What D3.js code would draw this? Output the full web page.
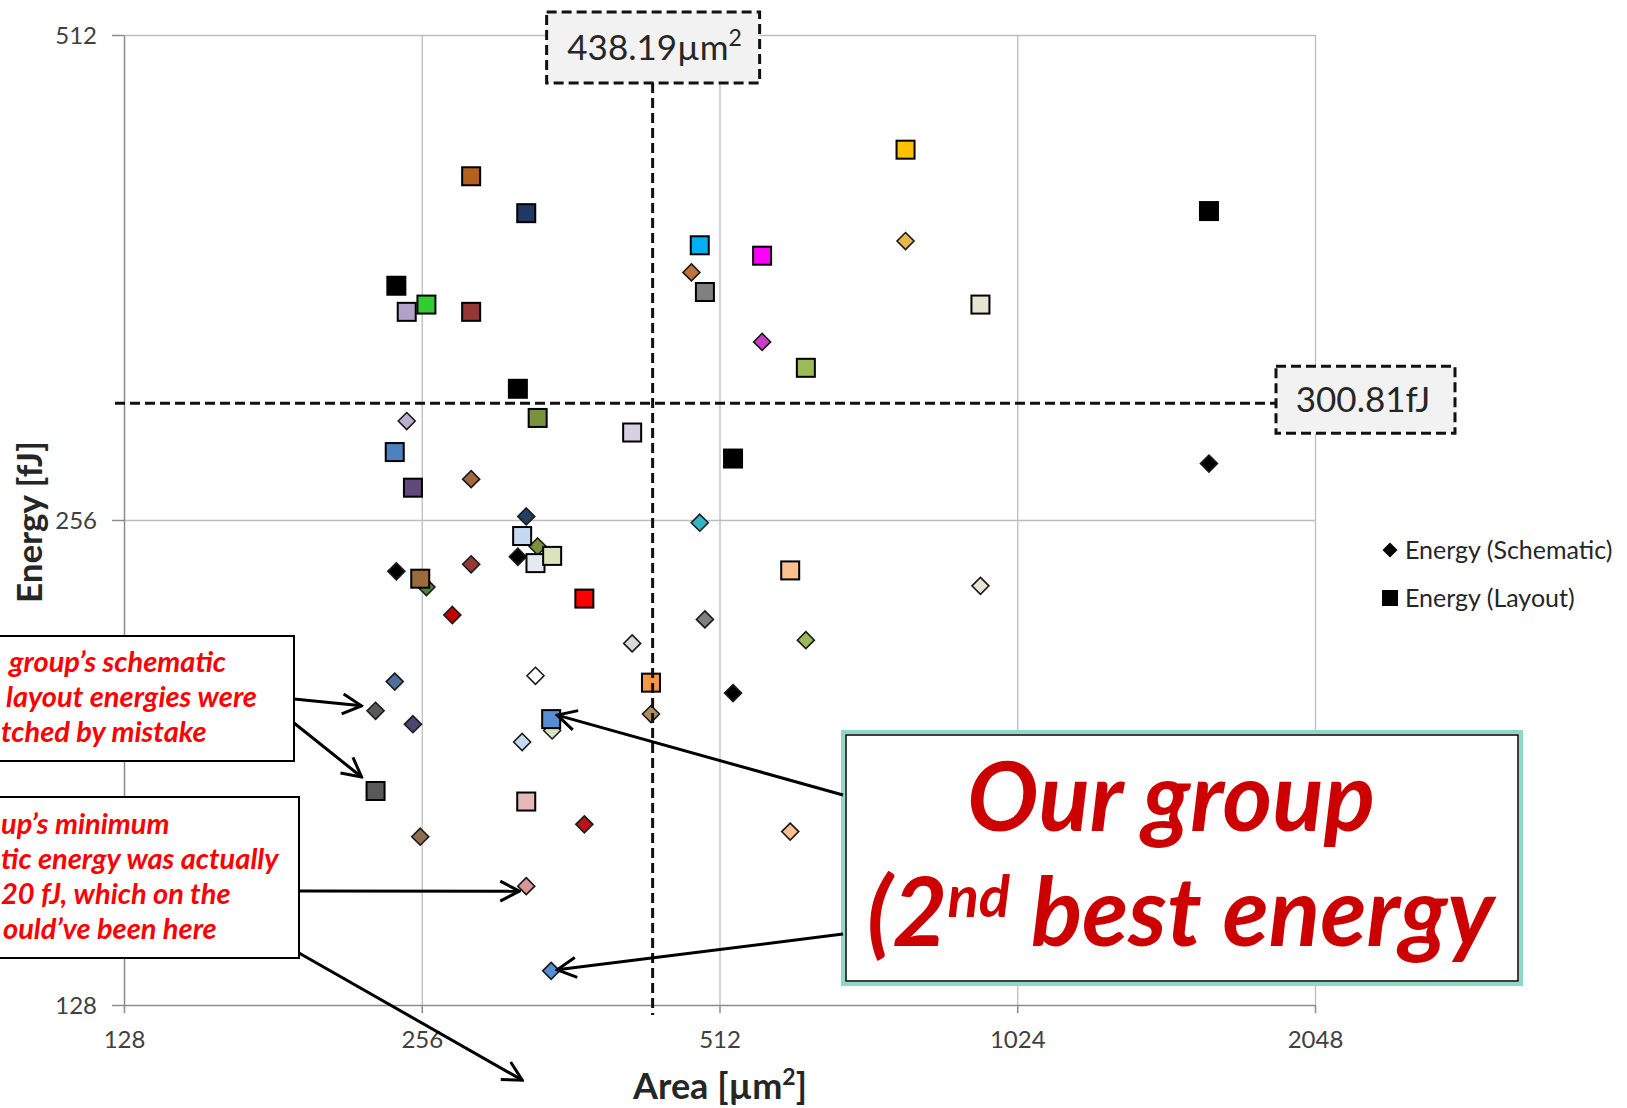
<!DOCTYPE html>
<html><head><meta charset="utf-8">
<script src="https://cdn.jsdelivr.net/npm/d3@7"></script>
<style>
body{margin:0;background:#fff}
svg{display:block}
text{font-family:Lato,"Open Sans",sans-serif}
</style>
</head><body>
<svg id="c" width="1627" height="1108"></svg>
<script>
// ---- data ----
const xTicks = [128, 256, 512, 1024, 2048];
const yTicks = [128, 256, 512];
const areas = [287.2, 326.5, 789.5, 1600, 489.0, 565.4, 241.3, 258.8, 247.2, 287.2, 494.9, 939.9, 626.0, 320.2, 335.3, 417.8, 240.4, 250.8, 528.4, 323.4, 333.6, 346.8, 255.1, 603.6, 373.8, 436.5, 346.0, 229.9, 326.5, 479.6, 274.9];
const layoutEnergy = [418.4, 396.9, 434.6, 398.1, 379.1, 373.5, 357.8, 348.3, 344.7, 344.7, 354.6, 348.3, 318.2, 308.8, 296.2, 290.1, 282.1, 268.1, 279.5, 250.2, 240.7, 243.2, 235.4, 238.2, 228.8, 202.9, 192.6, 173.8, 171.2, null, null];
const schematicEnergy = [271.4, 257.3, 381.4, 277.5, 255.0, 330.2, 237.9, 232.6, 294.9, 240.3, 222.1, 233.0, 215.6, 242.9, 246.5, 214.6, 203.2, 191.2, 199.9, 186.4, 204.9, 189.5, 162.8, 164.0, 165.7, 194.0, 134.4, 194.9, 151.7, 364.7, 223.5];
const layoutColors = ["#b5601c","#1f3864","#ffc000","#000000","#00b0f0","#ff00ff","#000000","#33cc33","#b3a2c7","#953735","#808080","#e4e6cf","#9bbb59","#000000","#77933c","#d5d1e3","#4f81bd","#604a7b","#000000","#c6d9f1","#e4eaf2","#d7e4bd","#9c6b3c","#fac090","#ff0000","#f79646","#558ed5","#595959","#e6b9b8",null,null];
const schematicColors = ["#a5673f","#243f60","#e6b84c","#000000","#31b6c4","#c83cc8","#000000","#4a8a3a","#b8b0d0","#953735","#7f7f7f","#e4e6cf","#9bbb59","#000000","#77933c","#d9d9d9","#4f6f9f","#4b4670","#000000","#c6d9f1","#ffffff","#d7e4bd","#8c6d4f","#fac090","#c0101a","#b08a64","#558ed5","#595959","#d99694","#c0743a","#c00000"];
const meanArea = 438.19;
const meanEnergy = 300.81;
const hiddenEnergy = 120;
const seriesNames = ["Energy (Schematic)", "Energy (Layout)"];

const points = areas.map((a, i) => ({area: a, layout: layoutEnergy[i], schem: schematicEnergy[i], lc: layoutColors[i], sc: schematicColors[i]}));

const svg = d3.select("#c");
const x = d3.scaleLog().base(2).domain([128, 2048]).range([124, 1315]);
const y = d3.scaleLog().base(2).domain([128, 512]).range([1005, 35]);

svg.append("rect").attr("width",1627).attr("height",1108).attr("fill","#fff");

// grid
const gx = svg.append("g").attr("transform","translate(0,1005)")
  .call(d3.axisBottom(x).tickValues(xTicks.slice(1)).tickSize(-(1005-35)).tickFormat(""));
gx.select(".domain").remove();
gx.selectAll("line").attr("stroke","#bdbdbd").attr("stroke-width",1.3);
const gy = svg.append("g").attr("transform","translate(124,0)")
  .call(d3.axisLeft(y).tickValues(yTicks.slice(1)).tickSize(-(1315-124)).tickFormat(""));
gy.select(".domain").remove();
gy.selectAll("line").attr("stroke","#bdbdbd").attr("stroke-width",1.3);

// axes
const ax = svg.append("g").attr("transform","translate(0,1005)")
  .call(d3.axisBottom(x).tickValues(xTicks).tickSize(8).tickFormat(d3.format("d")).tickSizeOuter(0));
ax.select(".domain").attr("stroke","#8c8c8c").attr("stroke-width",1.5);
ax.selectAll("line").attr("stroke","#8c8c8c").attr("stroke-width",1.5);
ax.selectAll("text").attr("y",43).attr("dy",0).attr("font-size",24).attr("fill","#404040").attr("font-family","Lato");
const ay = svg.append("g").attr("transform","translate(124,0)")
  .call(d3.axisLeft(y).tickValues(yTicks).tickSize(12).tickFormat(d3.format("d")).tickSizeOuter(0));
ay.select(".domain").attr("stroke","#8c8c8c").attr("stroke-width",1.5);
ay.selectAll("line").attr("stroke","#8c8c8c").attr("stroke-width",1.5);
ay.selectAll("text").attr("x",-27).attr("dy","0.36em").attr("font-size",24).attr("fill","#404040").attr("font-family","Lato");

// axis titles
svg.append("text").attr("x",720).attr("y",1099).attr("text-anchor","middle")
  .attr("font-size",36).attr("font-weight","bold").attr("fill","#262626")
  .html('Area [µm<tspan dy="-14" font-size="23">2</tspan><tspan dy="14">]</tspan>');
svg.append("text").attr("transform","translate(42,522) rotate(-90)").attr("text-anchor","middle")
  .attr("font-size",35).attr("font-weight","bold").attr("fill","#262626").text("Energy [fJ]");

// markers
const diamond = (s) => `M0,${-s}L${s},0L0,${s}L${-s},0Z`;
svg.append("g").selectAll("path").data(points).join("path")
  .attr("d", diamond(8.5))
  .attr("transform", d => `translate(${x(d.area)},${y(d.schem)})`)
  .attr("fill", d => d.sc).attr("stroke","#1a1a1a").attr("stroke-width",1.6);
svg.append("g").selectAll("rect").data(points.filter(d => d.layout != null)).join("rect")
  .attr("x", d => x(d.area) - 9).attr("y", d => y(d.layout) - 9)
  .attr("width",18).attr("height",18)
  .attr("fill", d => d.lc).attr("stroke","#000").attr("stroke-width",2);

// mean lines
const mx = x(meanArea), my = y(meanEnergy) - 4;
svg.append("line").attr("x1",mx).attr("x2",mx).attr("y1",83).attr("y2",1015)
  .attr("stroke","#111").attr("stroke-width",3).attr("stroke-dasharray","10,5");
svg.append("line").attr("x1",115).attr("x2",1276).attr("y1",my).attr("y2",my)
  .attr("stroke","#111").attr("stroke-width",3).attr("stroke-dasharray","10,5");

// mean boxes
svg.append("rect").attr("x",mx-106).attr("y",12).attr("width",213).attr("height",71)
  .attr("fill","#f2f2f2").attr("stroke","#111").attr("stroke-width",3).attr("stroke-dasharray","10,5");
svg.append("text").attr("x",mx+2).attr("y",60).attr("text-anchor","middle").attr("font-size",35).attr("fill","#262626")
  .html(meanArea.toFixed(2) + 'µm<tspan dy="-14" font-size="23">2</tspan>');
svg.append("rect").attr("x",1276).attr("y",my-37).attr("width",179).attr("height",67)
  .attr("fill","#f2f2f2").attr("stroke","#111").attr("stroke-width",3).attr("stroke-dasharray","10,5");
svg.append("text").attr("x",1363).attr("y",my+9).attr("text-anchor","middle").attr("font-size",35).attr("fill","#262626")
  .text(meanEnergy.toFixed(2) + "fJ");

// legend
svg.append("path").attr("d", diamond(7.5)).attr("transform","translate(1390,550)").attr("fill","#000");
svg.append("rect").attr("x",1382).attr("y",590).attr("width",16).attr("height",16).attr("fill","#000");
svg.append("text").attr("x",1405).attr("y",559).attr("font-size",25).attr("fill","#262626").text(seriesNames[0]);
svg.append("text").attr("x",1405).attr("y",607).attr("font-size",25).attr("fill","#262626").text(seriesNames[1]);

// arrow marker
svg.append("defs").append("marker").attr("id","arr").attr("viewBox","0 0 24 24")
  .attr("refX",22).attr("refY",12).attr("markerWidth",24).attr("markerHeight",24)
  .attr("markerUnits","userSpaceOnUse").attr("orient","auto")
  .append("path").attr("d","M3,2L22,12L3,22").attr("fill","none").attr("stroke","#000").attr("stroke-width",3);

const arrow = (x1,y1,x2,y2) => svg.append("line").attr("x1",x1).attr("y1",y1).attr("x2",x2).attr("y2",y2)
  .attr("stroke","#000").attr("stroke-width",3).attr("marker-end","url(#arr)");

// annotation box 1 (switched group)
const sw = points[27], pk = points[28], ours = points[26];
svg.append("rect").attr("x",-5).attr("y",636).attr("width",299).attr("height",125).attr("fill","#fff").attr("stroke","#000").attr("stroke-width",2);
const redText = (tx, ty, s) => svg.append("text").attr("x",tx).attr("y",ty).attr("font-size",29)
  .attr("font-weight","bold").attr("font-style","italic").attr("fill","#ff0000").text(s);
redText(9, 672, "group’s schematic");
redText(6, 707, "layout energies were");
redText(1, 742, "tched by mistake");
arrow(294,699, x(sw.area)-14, y(sw.schem)-5);
arrow(294,723, x(sw.area)-14, y(sw.layout)-14);

// annotation box 2
svg.append("rect").attr("x",-5).attr("y",797).attr("width",304).attr("height",161).attr("fill","#fff").attr("stroke","#000").attr("stroke-width",2);
redText(1, 834, "up’s minimum");
redText(1, 869, "tic energy was actually");
redText(1, 904, "20 fJ, which on the");
redText(3, 939, "ould’ve been here");
arrow(299,891, x(pk.area)-7, y(pk.schem)+5);
arrow(299,953, x(pk.area)-4, y(hiddenEnergy)+30);

// big box
svg.append("rect").attr("x",843).attr("y",732).attr("width",678).attr("height",252).attr("fill","#fff").attr("stroke","#8fd8c6").attr("stroke-width",4);
svg.append("rect").attr("x",846).attr("y",735).attr("width",672).attr("height",246).attr("fill","none").attr("stroke","#000").attr("stroke-width",1.5);
svg.append("text").attr("x",1171).attr("y",831).attr("text-anchor","middle").attr("font-size",95)
  .attr("font-weight","bold").attr("font-style","italic").attr("fill","#cc0000").text("Our group");
svg.append("text").attr("x",867).attr("y",946).attr("font-size",95)
  .attr("font-weight","bold").attr("font-style","italic").attr("fill","#cc0000")
  .html('(2<tspan dy="-29" font-size="58">nd</tspan><tspan dy="29"> best energy</tspan>');
arrow(843,795, x(ours.area)+6, y(ours.layout)-4);
arrow(843,934, x(ours.area)+6, y(ours.schem)-1);
</script>
</body></html>
